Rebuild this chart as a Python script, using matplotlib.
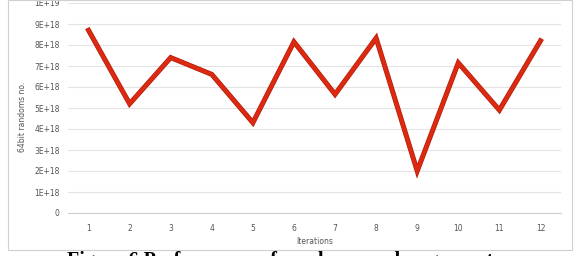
import numpy as np
import matplotlib
matplotlib.use("Agg")
import matplotlib.pyplot as plt
from matplotlib.patches import Rectangle

# ----- data -----
iterations = [1, 2, 3, 4, 5, 6, 7, 8, 9, 10, 11, 12]
randoms = [8.7e18, 5.2e18, 7.4e18, 6.6e18, 4.3e18, 8.15e18,
           5.65e18, 8.33e18, 2.0e18, 7.15e18, 4.9e18, 8.2e18]
y_ticks = [0, 1e18, 2e18, 3e18, 4e18, 5e18, 6e18, 7e18, 8e18, 9e18, 1e19]
y_tick_labels = ["0", "1E+18", "2E+18", "3E+18", "4E+18", "5E+18",
                 "6E+18", "7E+18", "8E+18", "9E+18", "1E+19"]
caption = "Figure 6 Performance of random number generator"

fig = plt.figure(figsize=(5.8, 2.56), dpi=100)

# chart frame
fig.patches.append(Rectangle((8 / 580, 1 - 250 / 256), 564 / 580, 250 / 256,
                             transform=fig.transFigure, fill=False,
                             edgecolor="#d0d0d0", linewidth=0.8))

ax = fig.add_axes([68 / 580, 1 - 213 / 256, 493 / 580, 210 / 256])

# ----- line -----
ax.plot(iterations, randoms, color="#b51a0a", linewidth=3.6, solid_joinstyle="miter")
ax.plot(iterations, randoms, color="#dc2a10", linewidth=2.6, solid_joinstyle="miter")

ax.set_xlim(0.5, 12.5)
ax.set_ylim(0, 1e19)
ax.set_xticks(iterations)
ax.set_xticklabels([str(i) for i in iterations], fontsize=5.5, color="#555555")
ax.set_yticks(y_ticks)
ax.set_yticklabels(y_tick_labels, fontsize=5.5, color="#555555")
ax.tick_params(length=0, pad=6)
ax.tick_params(axis="x", pad=8)

ax.grid(axis="y", color="#e4e4e4", linewidth=0.8)
ax.set_axisbelow(True)
for side in ["top", "right", "left"]:
    ax.spines[side].set_visible(False)
ax.spines["bottom"].set_color("#d0d0d0")

ax.set_xlabel("Iterations", fontsize=5.5, color="#555555", labelpad=3)
ax.set_ylabel("64bit randoms no.", fontsize=5.5, color="#555555")
ax.yaxis.set_label_coords(-0.083, 0.46)

# caption, cut off at the bottom edge as in the source
fig.text(0.5, 1 - 251 / 256, caption, ha="center", va="top",
         fontsize=14.5, fontweight="bold", family="Liberation Serif")

fig.savefig("out.png", dpi=100)
